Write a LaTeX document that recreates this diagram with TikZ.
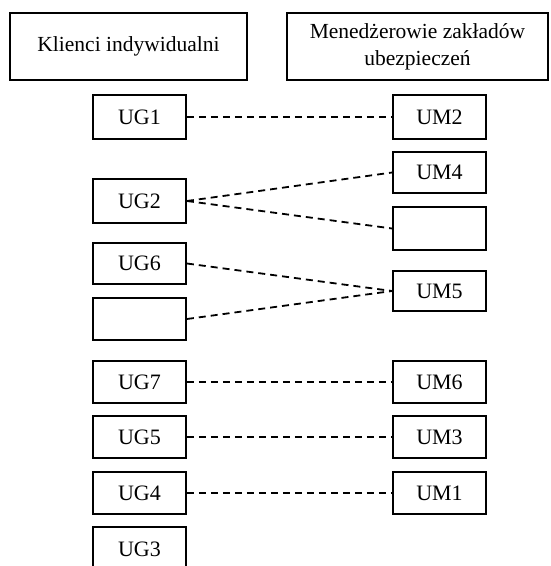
\documentclass[tikz,border=0pt]{standalone}
\usepackage{fontspec}
\setmainfont{Liberation Serif}
\begin{document}
\begin{tikzpicture}[x=1pt,y=-1pt,
  box/.style={draw, line width=1.8pt, rectangle, minimum width=93pt, minimum height=44pt, inner sep=0pt, font=\fontsize{22}{26}\selectfont},
  head/.style={draw, line width=1.8pt, rectangle, inner sep=0pt, align=center, font=\fontsize{21.5}{27}\selectfont},
  link/.style={line width=1.8pt, dash pattern=on 7pt off 5pt}]
\useasboundingbox (0,0) rectangle (550,566);
\node[head, minimum width=237pt, minimum height=67pt] (hl) at (128.5,46.5) {Klienci indywidualni};
\node[head, minimum width=261pt, minimum height=67pt] (hr) at (417.5,46.5) {Menedżerowie zakładów\\ubezpieczeń};
% left column
\node[box] (ug1) at (139.5,117) {UG1};
\node[box] (ug2) at (139.5,201) {UG2};
\node[box, minimum height=41pt] (ug6) at (139.5,263.5) {UG6};
\node[box, minimum height=42pt] (ugx) at (139.5,319) {};
\node[box, minimum height=42pt] (ug7) at (139.5,382) {UG7};
\node[box, minimum height=42pt] (ug5) at (139.5,437) {UG5};
\node[box, minimum height=42pt] (ug4) at (139.5,493) {UG4};
\node[box] (ug3) at (139.5,549) {UG3};
% right column
\node[box] (um2) at (439.5,117) {UM2};
\node[box, minimum height=41pt] (um4) at (439.5,172.5) {UM4};
\node[box, minimum height=43pt] (umx) at (439.5,228.5) {};
\node[box, minimum height=40pt] (um5) at (439.5,291) {UM5};
\node[box, minimum height=42pt] (um6) at (439.5,382) {UM6};
\node[box, minimum height=42pt] (um3) at (439.5,437) {UM3};
\node[box, minimum height=42pt] (um1) at (439.5,493) {UM1};
% links
\draw[link] (ug1.east) -- (um2.west);
\draw[link] (ug2.east) -- (um4.west);
\draw[link] (ug2.east) -- (umx.west);
\draw[link] (ug6.east) -- (um5.west);
\draw[link] (ugx.east) -- (um5.west);
\draw[link] (ug7.east) -- (um6.west);
\draw[link] (ug5.east) -- (um3.west);
\draw[link] (ug4.east) -- (um1.west);
\end{tikzpicture}
\end{document}
